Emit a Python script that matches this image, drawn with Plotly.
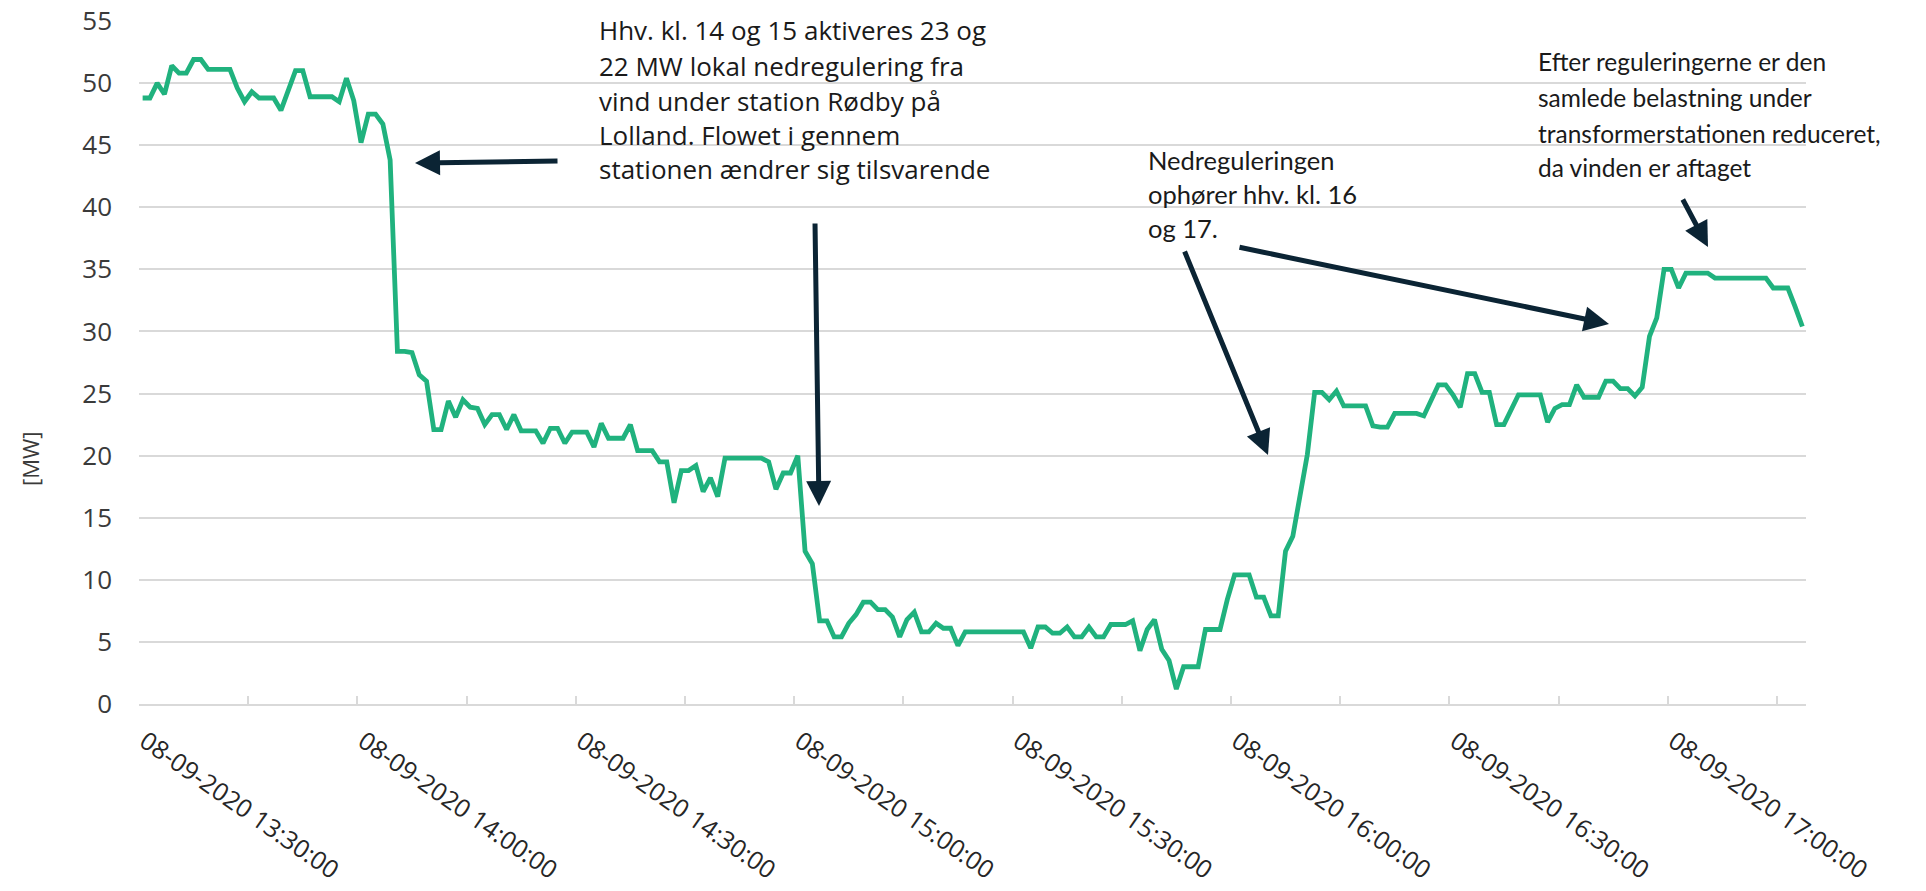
import pandas as pd
import plotly.graph_objects as go

# ---------------- data (1-minute values) ----------------
mw_values = [
    48.8, 48.8, 50.0, 49.1, 51.4, 50.8, 50.8, 51.9, 51.9, 51.1,
    51.1, 51.1, 51.1, 49.6, 48.5, 49.3, 48.8, 48.8, 48.8, 47.8,
    49.4, 51.0, 51.0, 48.9, 48.9, 48.9, 48.9, 48.5, 50.4, 48.6,
    45.2, 47.5, 47.5, 46.7, 43.8, 28.4, 28.4, 28.3, 26.5, 26.0,
    22.1, 22.1, 24.4, 23.1, 24.5, 23.9, 23.8, 22.5, 23.3, 23.3,
    22.1, 23.3, 22.0, 22.0, 22.0, 21.0, 22.2, 22.2, 21.0, 21.9,
    21.9, 21.9, 20.7, 22.6, 21.4, 21.4, 21.4, 22.5, 20.4, 20.4,
    20.4, 19.5, 19.5, 16.2, 18.8, 18.8, 19.2, 17.1, 18.2, 16.7,
    19.8, 19.8, 19.8, 19.8, 19.8, 19.8, 19.5, 17.3, 18.6, 18.6,
    20.0, 12.3, 11.3, 6.7, 6.7, 5.4, 5.4, 6.5, 7.2, 8.2,
    8.2, 7.6, 7.6, 7.0, 5.4, 6.8, 7.4, 5.8, 5.8, 6.5,
    6.1, 6.1, 4.7, 5.8, 5.8, 5.8, 5.8, 5.8, 5.8, 5.8,
    5.8, 5.8, 4.5, 6.2, 6.2, 5.7, 5.7, 6.2, 5.4, 5.4,
    6.2, 5.4, 5.4, 6.4, 6.4, 6.4, 6.7, 4.3, 6.0, 6.8,
    4.4, 3.5, 1.2, 3.0, 3.0, 3.0, 6.0, 6.0, 6.0, 8.4,
    10.4, 10.4, 10.4, 8.6, 8.6, 7.1, 7.1, 12.3, 13.5, 16.8,
    20.1, 25.1, 25.1, 24.5, 25.2, 24.0, 24.0, 24.0, 24.0, 22.4,
    22.3, 22.3, 23.4, 23.4, 23.4, 23.4, 23.2, 24.5, 25.7, 25.7,
    24.9, 23.9, 26.6, 26.6, 25.1, 25.1, 22.5, 22.5, 23.8, 24.9,
    24.9, 24.9, 24.9, 22.7, 23.8, 24.1, 24.1, 25.7, 24.7, 24.7,
    24.7, 26.0, 26.0, 25.4, 25.4, 24.8, 25.5, 29.6, 31.1, 35.0,
    35.0, 33.5, 34.7, 34.7, 34.7, 34.7, 34.3, 34.3, 34.3, 34.3,
    34.3, 34.3, 34.3, 34.3, 33.5, 33.5, 33.5, 32.0, 30.4,
]
start_time = "2020-09-08 13:30:30"
axis_start = "2020-09-08 13:30:00"
axis_end = "2020-09-08 17:19:00"
times = pd.date_range(start_time, periods=len(mw_values), freq="min")

y_title = "[MW]"
note1_lines = ["Hhv. kl. 14 og 15 aktiveres 23 og", "22 MW lokal nedregulering fra",
               "vind under station Rødby på", "Lolland. Flowet i gennem",
               "stationen ændrer sig tilsvarende"]
note2_lines = ["Nedreguleringen", "ophører hhv. kl. 16", "og 17."]
note3_lines = ["Efter reguleringerne er den", "samlede belastning under",
               "transformerstationen reduceret,", "da vinden er aftaget"]

# ---------------- layout geometry (page margin removed, so div = window) ----------------
W, H = 1926, 891
ML, MR, MT, MB = 139, 120, 21, 187
PW, PH = W - ML - MR, H - MT - MB
PLOT_LEFT, PLOT_BOTTOM = ML, MT + PH

FONT_WIDE = "'Open Sans', sans-serif"
FONT_NARROW = "Lato, sans-serif"
LINE_GREEN = "#20B27E"
ARROW = "#0B2434"
GRID = "#D9D9D9"


def px(x):
    return (x - PLOT_LEFT) / PW


def py(y):
    return (PLOT_BOTTOM - y) / PH


fig = go.Figure()
fig.add_trace(go.Scatter(x=times, y=mw_values, mode="lines",
                         line=dict(color=LINE_GREEN, width=4.8),
                         hoverinfo="skip", showlegend=False))

annotations = []


def text_block(lines, left, centers, family, size):
    for t, cy in zip(lines, centers):
        annotations.append(dict(text=t, xref="paper", yref="paper", x=px(left), y=py(cy),
                                xanchor="left", yanchor="middle", showarrow=False,
                                font=dict(family=family, size=size, color="#1A1A1A")))


text_block(note1_lines, 597, [30, 66, 101, 135, 169], FONT_WIDE, 26)
text_block(note2_lines, 1146, [160, 194, 228], FONT_NARROW, 25.5)
text_block(note3_lines, 1536, [61, 97, 133, 168], FONT_NARROW, 24.5)


def arrow(head, tail):
    annotations.append(dict(text="", xref="paper", yref="paper", x=px(head[0]), y=py(head[1]),
                            ax=tail[0] - head[0], ay=tail[1] - head[1], axref="pixel", ayref="pixel",
                            showarrow=True, arrowhead=2, arrowsize=1.0, arrowwidth=5,
                            arrowcolor=ARROW, standoff=0))


arrow((415, 163), (559, 161))
arrow((819, 506), (815, 222))
arrow((1268, 455), (1184, 250))
arrow((1609, 324), (1238, 247))
arrow((1708, 247), (1682, 198))

annotations.append(dict(text=y_title, xref="paper", yref="paper", x=px(30), y=py(459),
                        xanchor="center", yanchor="middle", textangle=-90, showarrow=False,
                        font=dict(family=FONT_WIDE, size=22, color="#3A3A3A")))

fig.update_layout(
    width=W, height=H,
    margin=dict(l=ML, r=MR, t=MT, b=MB, autoexpand=False),
    paper_bgcolor="white", plot_bgcolor="white",
    annotations=annotations,
    xaxis=dict(type="date", range=[axis_start, axis_end],
               tick0=axis_start, dtick=30 * 60 * 1000,
               tickformat="%d-%m-%Y %H:%M:%S", tickangle=35,
               tickfont=dict(family=FONT_WIDE, size=25, color="#262626"),
               ticks="inside", ticklen=8, tickwidth=1.5, tickcolor=GRID,
               minor=dict(dtick=15 * 60 * 1000, tick0=axis_start, ticks="inside",
                          ticklen=8, tickwidth=1.5, tickcolor=GRID, showgrid=False),
               showgrid=False, zeroline=False, showline=True, linecolor=GRID, linewidth=2,
               ticklabelstandoff=11, ticklabelshift=6, ticklabeloverflow="allow"),
    yaxis=dict(range=[0, 55], dtick=5, tick0=0, showgrid=True, gridcolor=GRID, gridwidth=1.5,
               zeroline=False, showline=False, ticks="",
               tickfont=dict(family=FONT_WIDE, size=26, color="#3A3A3A"),
               ticklabelstandoff=26, ticklabeloverflow="allow"),
)

fig.write_html("out.html", config={"displayModeBar": False},
               post_script="document.body.style.margin='0';document.body.style.overflow='hidden';")
